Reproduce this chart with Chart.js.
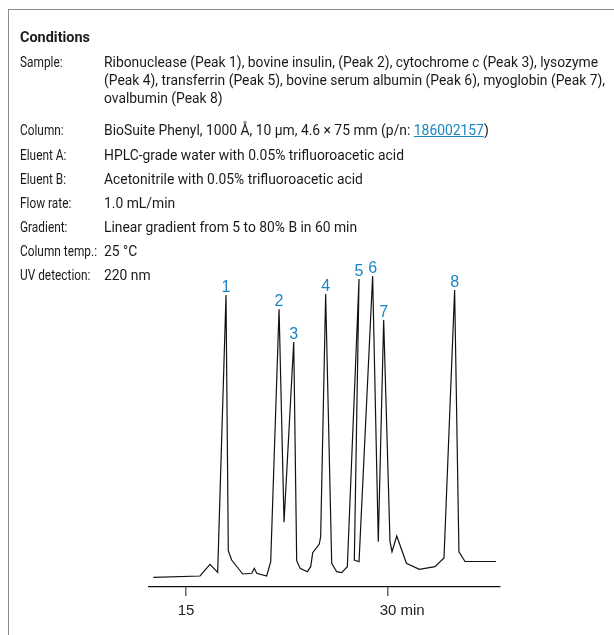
<!DOCTYPE html>
<html>
<head>
<meta charset="utf-8">
<script src="https://cdn.jsdelivr.net/npm/chart.js@4"></script>
<style>
  html, body { margin:0; padding:0; background:#fff; }
  body { width:614px; height:635px; position:relative; overflow:hidden; font-family: Roboto, "Liberation Sans", sans-serif; color:#1a1a1a; }
  #frame { position:absolute; left:8px; top:9px; width:700px; height:700px; border-top:1.5px solid #8a8a8a; border-left:1.5px solid #8a8a8a; }
  .t { position:absolute; white-space:nowrap; font-size:15px; line-height:18px; transform-origin:0 50%; }
  .b { font-weight:bold; }
  a { color:#1a85c4; text-decoration:underline; }
  canvas { position:absolute; left:0; top:0; }
</style>
</head>
<body>
<div id="frame"></div>
<canvas id="c" width="614" height="635"></canvas>
<div id="txt"></div>
<script>
// ---- Conditions text ----
const condLabels = ["Sample:", "", "", "Column:", "Eluent A:", "Eluent B:", "Flow rate:", "Gradient:", "Column temp.:", "UV detection:"];
const condValues = [
  'Ribonuclease (Peak 1), bovine insulin, (Peak 2), cytochrome <i>c</i> (Peak 3), lysozyme',
  '(Peak 4), transferrin (Peak 5), bovine serum albumin (Peak 6), myoglobin (Peak 7),',
  'ovalbumin (Peak 8)',
  'BioSuite Phenyl, 1000 Å, 10 µm, 4.6 × 75 mm (p/n: <a>186002157</a>)',
  'HPLC-grade water with 0.05% trifluoroacetic acid',
  'Acetonitrile with 0.05% trifluoroacetic acid',
  '1.0 mL/min',
  'Linear gradient from 5 to 80% B in 60 min',
  '25 °C',
  '220 nm'
];
const condRowY = [62, 80, 98, 130, 155, 179, 203, 227, 251, 275];

// ---- Chromatogram data (time in min, detector response) ----
const timeMin = [12.57, 16.04, 16.78, 17.35, 17.97, 18.14, 18.39, 19.21, 19.88, 20.07, 20.25, 20.99,
  21.29, 21.91, 22.28, 23.00, 23.22, 23.47, 24.01, 24.26, 24.41, 24.90, 25.00, 25.37, 25.82,
  26.19, 26.56, 26.98, 27.85, 27.50, 27.85, 28.86, 29.28, 29.68, 30.15, 30.30, 30.65, 31.37,
  32.33, 33.49, 34.16, 34.95, 35.27, 35.72, 38.02];
const response = [9.7, 11, 22.7, 14.7, 292, 36.3, 27, 13, 13.7, 18.7, 13.7, 11,
  25.3, 277.7, 64.7, 245, 26.3, 18.7, 15.3, 20.3, 34.3, 43, 50.3, 293, 23.7,
  15.3, 14.3, 20.3, 308, 27, 25.3, 311, 45.3, 267, 45.3, 35.3, 51, 23.7,
  17.7, 20.3, 29, 297, 35.3, 25.5, 25.5];
const peakNumbers = ["1", "2", "3", "4", "5", "6", "7", "8"];
const peakPointIndex = [4, 13, 15, 23, 28, 31, 33, 41];
const xTicks = [15, 30];
const xUnit = "min";

// build text
const txt = document.getElementById('txt');
function addText(html, x, yc, cls) {
  const d = document.createElement('div');
  d.className = 't' + (cls ? ' ' + cls : '');
  d.innerHTML = html;
  d.style.left = x + 'px';
  d.style.top = (yc - 9) + 'px';
  txt.appendChild(d);
  return d;
}
function fitWidth(el, w) {
  const s = w / el.getBoundingClientRect().width;
  return s;
}
const head = addText('Conditions', 20, 37, 'b');
const labelEls = [], valueEls = [];
let tempLabel = null;
condLabels.forEach((l, i) => {
  if (l) {
    const e = addText(l, 20, condRowY[i]);
    labelEls.push(e);
    if (l === 'Column temp.:') tempLabel = e;
  }
  valueEls.push(addText(condValues[i], 104, condRowY[i]));
});
const sv = fitWidth(valueEls[0], 494);
const sl = fitWidth(tempLabel, 77);
const sh = fitWidth(head, 70);
valueEls.forEach(e => e.style.transform = 'scaleX(' + sv.toFixed(4) + ')');
labelEls.forEach(e => e.style.transform = 'scaleX(' + sl.toFixed(4) + ')');
head.style.transform = 'scaleX(' + sh.toFixed(4) + ')';

// ---- chart ----
const points = timeMin.map((t, i) => ({x: t, y: response[i]}));
const peakLabelPlugin = {
  id: 'peakLabels',
  afterDatasetsDraw(chart) {
    const ctx = chart.ctx;
    const meta = chart.getDatasetMeta(0);
    ctx.save();
    ctx.fillStyle = '#1a85c4';
    ctx.font = '16px "Liberation Sans", Arial, sans-serif';
    ctx.textAlign = 'center';
    ctx.textBaseline = 'alphabetic';
    peakPointIndex.forEach((idx, k) => {
      const p = meta.data[idx];
      ctx.fillText(peakNumbers[k], p.x, p.y - 3);
    });
    ctx.restore();
  },
  afterDraw(chart) {
    const sc = chart.scales.x;
    const ctx = chart.ctx;
    const font = '15px "Liberation Sans", Arial, sans-serif';
    ctx.save();
    ctx.font = font;
    ctx.fillStyle = '#222';
    const last = xTicks[xTicks.length - 1];
    const px = sc.getPixelForValue(last);
    const w = ctx.measureText(String(last)).width;
    let y = sc.top + 9 + 6;
    let base = 'top';
    try {
      const items = sc.getLabelItems();
      const it = items[items.length - 1];
      y = it.options.translation[1] + (it.textOffset || 0);
      base = it.options.textBaseline;
    } catch (e) {}
    ctx.textBaseline = base;
    ctx.textAlign = 'left';
    ctx.fillText(' ' + xUnit, px + w / 2, y);
    ctx.restore();
  }
};

new Chart(document.getElementById('c'), {
  type: 'line',
  data: {
    datasets: [{
      data: points,
      borderColor: '#111',
      borderWidth: 1.2,
      pointRadius: 0,
      tension: 0,
      fill: false
    }]
  },
  options: {
    responsive: false,
    animation: false,
    devicePixelRatio: 1,
    layout: { padding: { left: 149, right: 114, top: 270, bottom: 8 } },
    plugins: { legend: { display: false }, tooltip: { enabled: false } },
    scales: {
      x: {
        type: 'linear',
        min: 12.25,
        max: 38.32,
        afterBuildTicks: (s) => { s.ticks = xTicks.map(v => ({value: v})); },
        afterFit: (s) => { s.height = 40; },
        ticks: {
          color: '#222',
          font: { family: '"Liberation Sans", Arial, sans-serif', size: 15 },
          padding: 6,
          maxRotation: 0,
          callback: (v) => String(v)
        },
        grid: { drawOnChartArea: false, tickLength: 9, color: '#666', lineWidth: 1.5 },
        border: { display: true, color: '#111', width: 1.3 }
      },
      y: {
        display: false,
        min: 0,
        max: 317
      }
    }
  },
  plugins: [peakLabelPlugin]
});
</script>
</body>
</html>
